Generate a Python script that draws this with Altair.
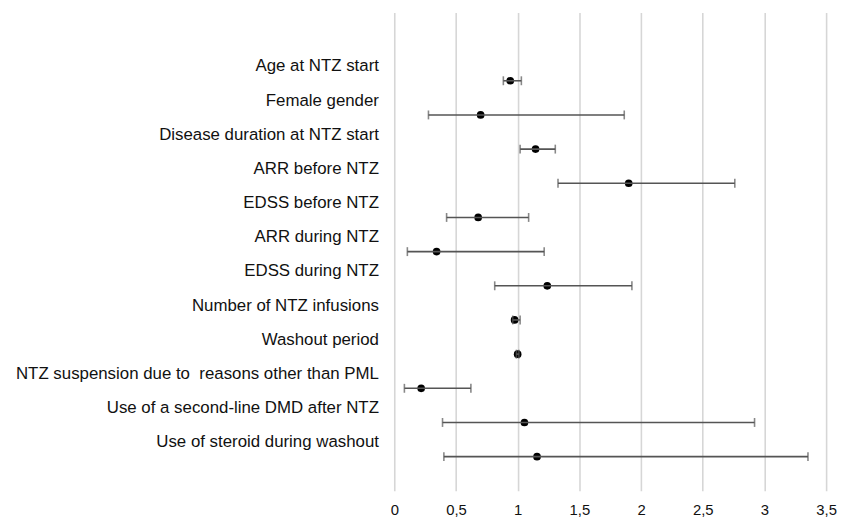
import json
import altair as alt
import pandas as pd

labels = [
    "Age at NTZ start",
    "Female gender",
    "Disease duration at NTZ start\u00a0",
    "ARR before NTZ",
    "EDSS before NTZ\u00a0",
    "ARR during NTZ",
    "EDSS during NTZ",
    "Number of NTZ infusions",
    "Washout period",
    "NTZ suspension due to\u00a0 reasons other than PML",
    "Use of a second-line DMD after NTZ",
    "Use of steroid during washout",
]
estimate = [0.94, 0.70, 1.145, 1.90, 0.68, 0.343, 1.24, 0.975, 1.0, 0.218, 1.055, 1.157]
ci_low = [0.884, 0.277, 1.02, 1.327, 0.424, 0.106, 0.814, 0.96, 0.99, 0.082, 0.391, 0.402]
ci_high = [1.03, 1.864, 1.305, 2.76, 1.089, 1.215, 1.926, 1.02, 1.01, 0.621, 2.92, 3.353]
x_ticks = [0, 0.5, 1, 1.5, 2, 2.5, 3, 3.5]

n = len(labels)
df = pd.DataFrame({
    "label": labels,
    "row": [n - i for i in range(n)],
    "est": estimate,
    "lo": ci_low,
    "hi": ci_high,
})

label_expr = json.dumps(labels) + "[" + str(n) + " - datum.value]"

xscale = alt.Scale(domain=[0, 3.5], nice=False, zero=False)
yscale = alt.Scale(domain=[0, 14], nice=False, zero=False)

xenc = alt.X(
    "est:Q", scale=xscale, title=None,
    axis=alt.Axis(values=x_ticks, format="~g",
                  labelExpr="replace(datum.label, '.', ',')",
                  grid=True, gridColor="#d6d6d6", gridWidth=1.6,
                  domain=False, ticks=False, labelPadding=24,
                  labelBaseline="alphabetic", labelFlush=False,
                  labelFontSize=15, labelColor="#111111",
                  labelFont="Liberation Sans"),
)
yenc = alt.Y(
    "row:Q", scale=yscale, title=None,
    axis=alt.Axis(values=list(range(1, n + 1)), labelExpr=label_expr,
                  grid=False, domain=False, ticks=False,
                  labelPadding=16, labelOffset=-15,
                  labelFontSize=17, labelColor="#111111",
                  labelFont="Liberation Sans", labelLimit=0),
)

base = alt.Chart(df)

bars = base.mark_rule(color="#555555", strokeWidth=1.6).encode(
    x=alt.X("lo:Q", scale=xscale), x2="hi:Q", y=alt.Y("row:Q", scale=yscale)
)
cap_lo = base.mark_tick(color="#555555", orient="vertical", size=9, thickness=1.6).encode(
    x=alt.X("lo:Q", scale=xscale), y=alt.Y("row:Q", scale=yscale)
)
cap_hi = base.mark_tick(color="#555555", orient="vertical", size=9, thickness=1.6).encode(
    x=alt.X("hi:Q", scale=xscale), y=alt.Y("row:Q", scale=yscale)
)
points = base.mark_circle(color="#000000", opacity=1, size=60).encode(
    x=xenc, y=yenc
)

chart = alt.layer(points, bars, cap_lo, cap_hi).properties(
    width=436, height=483,
    autosize=alt.AutoSizeParams(type="none"),
    padding={"left": 390, "top": 2, "right": 12, "bottom": 27},
).configure_view(stroke="transparent")

chart.save("out.html", embed_options={"renderer": "svg", "actions": False})
